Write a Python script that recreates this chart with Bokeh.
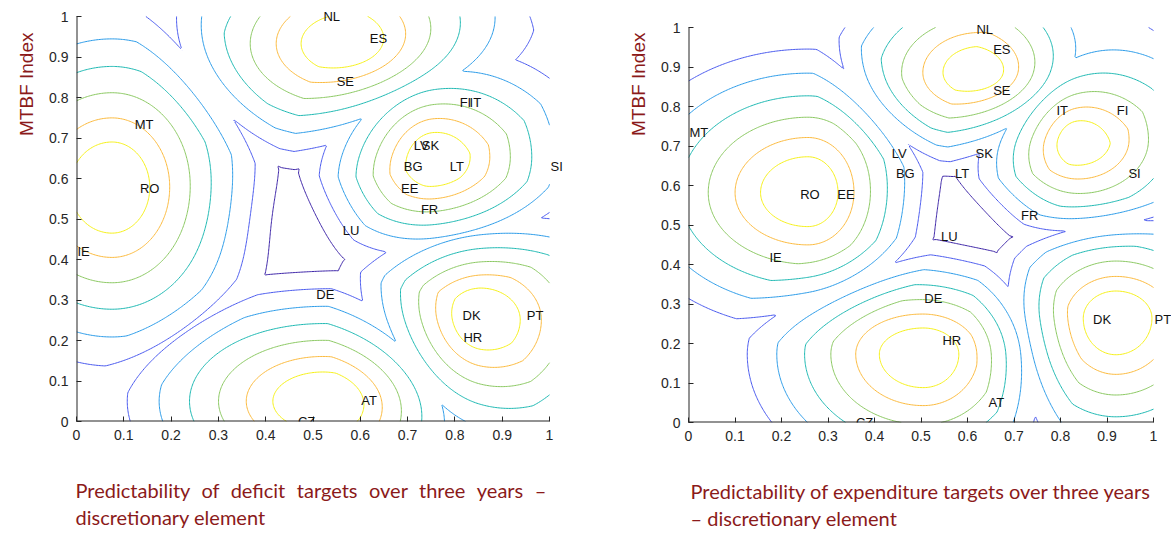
import numpy as np
from bokeh.plotting import figure
from bokeh.layouts import row, column
from bokeh.models import ColumnDataSource, LabelSet, FixedTicker, Range1d, Title, Spacer
from bokeh.embed import file_html
from bokeh.resources import INLINE
from bokeh.core.properties import value

# contour levels and their colours (parula-like)
LEVELS = [0.2, 0.3, 0.4, 0.5, 0.6, 0.7, 0.8]
COLORS = ["#3E26A8", "#4A5AEE", "#2B9BE8", "#1DB8B2", "#8BC862", "#FBBA3E", "#F5F01A"]

# surface: one bump per cluster (centre x, centre y, reach left / right / down / up)
LEFT_BX = [0.075, 0.574, 0.754, 0.854, 0.521]
LEFT_BY = [0.578, 0.933, 0.653, 0.251, 0.050]
LEFT_SL = [1.133, 1.268, 0.834, 0.916, 1.354]
LEFT_SR = [1.023, 1.294, 1.001, 1.076, 1.260]
LEFT_SD = [1.444, 0.933, 0.952, 1.172, 0.928]
LEFT_SU = [1.434, 0.940, 1.113, 1.004, 0.924]
LEFT_K, LEFT_FLOOR, LEFT_G = 1.659, 0.21, 0.3859
LEFT_DIP = (0.465, 0.50, 0.05, 0.10)      # centre x, centre y, depth, width

RIGHT_BX = [0.257, 0.628, 0.834, 0.919, 0.505]
RIGHT_BY = [0.582, 0.886, 0.716, 0.264, 0.173]
RIGHT_SL = [1.096, 0.867, 0.667, 0.753, 1.016]
RIGHT_SR = [0.697, 0.903, 0.793, 0.834, 0.821]
RIGHT_SD = [0.925, 0.648, 0.705, 0.993, 0.910]
RIGHT_SU = [0.975, 0.709, 0.896, 0.740, 0.715]
RIGHT_K, RIGHT_FLOOR, RIGHT_G = 1.250, 0.236, 0.4572
RIGHT_DIP = (0.61, 0.52, 0.075, 0.10)

# country labels
L_NAMES = ["NL","ES","SE","FI","IT","MT","LV","SK","BG","LT","SI","RO","EE","FR","LU","IE","DE","DK","PT","HR","AT","CZ"]
L_X = [0.52,0.618,0.548,0.808,0.829,0.121,0.711,0.728,0.69,0.787,1.0,0.132,0.684,0.726,0.561,0.0,0.505,0.814,0.95,0.816,0.6,0.466]
L_Y = [1.0,0.945,0.84,0.788,0.788,0.734,0.681,0.681,0.63,0.63,0.63,0.576,0.576,0.524,0.472,0.42,0.314,0.262,0.262,0.208,0.052,0.0]
R_NAMES = ["NL","ES","SE","IT","FI","MT","LV","SK","BG","LT","SI","RO","EE","FR","LU","IE","DE","DK","PT","HR","AT","CZ"]
R_X = [0.617,0.653,0.653,0.789,0.919,0.0,0.435,0.615,0.444,0.571,0.944,0.238,0.318,0.713,0.541,0.172,0.505,0.868,1.0,0.544,0.643,0.358]
R_Y = [0.996,0.945,0.841,0.789,0.789,0.734,0.681,0.681,0.63,0.63,0.63,0.577,0.577,0.525,0.472,0.418,0.314,0.26,0.26,0.207,0.051,0.0]

TICKS = [round(i * 0.1, 1) for i in range(11)]
RED = "#8B1A1A"
AXC = "#262626"


def field(bx, by, sl, sr, sd, su, k, floor, g, dip, X, Y):
    bx, by, sl, sr, sd, su = [np.asarray(a, float)[:, None] for a in (bx, by, sl, sr, sd, su)]
    dx = X[None] - bx
    dy = Y[None] - by
    sx = np.where(dx < 0, sl, sr)
    sy = np.where(dy < 0, sd, su)
    C = np.maximum((1 + k) * np.exp(-np.hypot(dx / sx, dy / sy)) - k, floor)
    best = C.max(0)
    z = best - g * (C.sum(0) - best - floor * (C.shape[0] - 1))
    cx, cy, depth, width = dip
    return z - depth * np.exp(-((X - cx) ** 2 + (Y - cy) ** 2) / (2 * width ** 2))


def build(params, names, xs, ys, title_text, t_offset, t_standoff, ylab_offset, ylab_standoff,
          fl, ft, fw, fh, fr, fb, xend, yend):
    p = figure(frame_width=fw, frame_height=fh, min_border_left=fl, min_border_top=ft,
               min_border_right=fr, min_border_bottom=fb, output_backend="svg",
               toolbar_location=None, x_range=Range1d(0, xend), y_range=Range1d(0, yend))
    p.outline_line_color = None
    p.grid.visible = False
    gx = np.linspace(0, 1, 301)
    GX, GY = np.meshgrid(gx, gx)
    Z = field(*params, GX.ravel(), GY.ravel()).reshape(GX.shape)
    p.contour(GX, GY, Z, LEVELS, line_color=COLORS, line_width=1)
    # axis lines limited to the 0..1 box
    p.segment(x0=[0, 0], y0=[0, 0], x1=[1, 0], y1=[0, 1], line_color=AXC, line_width=2)
    for ax in (p.xaxis[0], p.yaxis[0]):
        ax.ticker = FixedTicker(ticks=TICKS)
        ax.major_label_overrides = {0: "0", 1: "1"}
        ax.minor_tick_line_color = None
        ax.major_tick_in = 5
        ax.major_tick_out = 0
        ax.axis_line_color = None
        ax.major_tick_line_color = AXC
        ax.major_label_text_color = AXC
        ax.major_label_text_font = "Liberation Sans"
        ax.major_label_text_font_size = "14px"
        ax.major_label_standoff = 8
    src = ColumnDataSource(dict(x=xs, y=ys, t=names))
    p.add_layout(LabelSet(x="x", y="y", text="t", source=src, text_font=value("Liberation Sans"),
                          text_font_size=value("13px"), text_color="#111111",
                          text_align="left", text_baseline="middle", x_offset=1))
    p.add_layout(Title(text="MTBF Index", align="right", offset=ylab_offset, standoff=ylab_standoff,
                       text_font="Liberation Sans", text_font_size="19px", text_font_style="normal",
                       text_color=RED), "left")
    p.add_layout(Title(text=title_text, align="left", offset=t_offset, standoff=t_standoff,
                       text_font="Lato", text_font_size="20px", text_font_style="normal",
                       text_line_height=1.13, text_color=RED), "below")
    return p


GAP = "\u00a0\u00a0\u200a"
left_title = ("Predictability of deficit targets over three years \u2013").replace(" ", GAP) + "\ndiscretionary element"
right_title = "Predictability of expenditure targets over three years\n\u2013 discretionary element"

p1 = build((LEFT_BX, LEFT_BY, LEFT_SL, LEFT_SR, LEFT_SD, LEFT_SU, LEFT_K, LEFT_FLOOR, LEFT_G, LEFT_DIP),
           L_NAMES, L_X, L_Y, left_title, -1, 67, 26, 20,
           76, 6, 492, 415, 8, 111, 492 / 473, 415 / 405)
p2 = build((RIGHT_BX, RIGHT_BY, RIGHT_SL, RIGHT_SR, RIGHT_SD, RIGHT_SU, RIGHT_K, RIGHT_FLOOR, RIGHT_G, RIGHT_DIP),
           R_NAMES, R_X, R_Y, right_title, 2, 67, 15, 19,
           112, 6, 483, 405, 0, 110, 483 / 465, 405 / 395)
layout = row(p1, column(Spacer(height=11), p2))
open("out.html", "w").write(file_html(layout, INLINE))
